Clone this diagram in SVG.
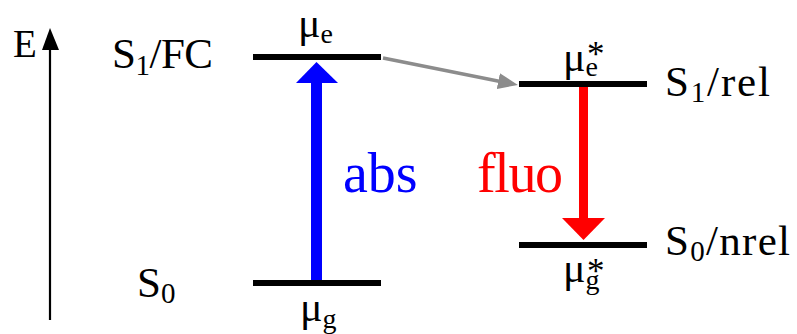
<svg xmlns="http://www.w3.org/2000/svg" width="797" height="334" viewBox="0 0 797 334">
<style>
  .t { font-family: "Liberation Serif", "Times New Roman", serif; fill: #000; }
  .lab { font-size: 43px; }
  .sub { font-size: 29px; }
  .mu { font-size: 42px; }
  .musub { font-size: 28px; }
  .star { font-size: 35px; }
  .level { stroke: #000; stroke-width: 6; fill: none; }
</style>
<defs>
  <marker id="grayHead" viewBox="0 0 20 16" refX="2" refY="8" markerWidth="20" markerHeight="16" markerUnits="userSpaceOnUse" orient="auto">
    <path d="M0,0 L20,8 L0,16 z" fill="#8c8c8c"/>
  </marker>
</defs>

<g id="axis">
  <line x1="50" y1="320" x2="50" y2="48" stroke="#000" stroke-width="2.2"/>
  <polygon points="50,28 42,50 59,50" fill="#000"/>
  <text class="t" x="13" y="57" font-size="39">E</text>
</g>

<g id="S1FC">
  <line class="level" x1="253" y1="57" x2="381" y2="57"/>
  <text class="t lab" x="112" y="68" textLength="101">S<tspan class="sub" dy="7">1</tspan><tspan dy="-7">/FC</tspan></text>
  <text class="t mu" x="298" y="37">μ<tspan class="musub" dy="6">e</tspan></text>
</g>

<g id="S0">
  <line class="level" x1="253" y1="283" x2="381" y2="283"/>
  <text class="t lab" x="137" y="297">S<tspan class="sub" dy="6">0</tspan></text>
  <text class="t mu" x="300" y="321">μ<tspan class="musub" dy="7">g</tspan></text>
</g>

<g id="S1rel">
  <line class="level" x1="519" y1="84" x2="647" y2="84"/>
  <text class="t lab" x="665" y="96" textLength="105">S<tspan class="sub" dy="6">1</tspan><tspan dy="-6">/rel</tspan></text>
  <text class="t mu" x="563" y="71">μ<tspan class="musub" dy="5">e</tspan><tspan class="star" x="587" y="66">*</tspan></text>
</g>

<g id="S0nrel">
  <line class="level" x1="519" y1="245" x2="647" y2="245"/>
  <text class="t lab" x="665" y="255" textLength="125">S<tspan class="sub" dy="6">0</tspan><tspan dy="-6">/nrel</tspan></text>
  <text class="t mu" x="563" y="282">μ<tspan class="musub" dy="7">g</tspan><tspan class="star" x="587" y="283">*</tspan></text>
</g>

<g id="connectors">
  <g id="abs">
    <rect x="311" y="82" width="11" height="198" fill="#0000ff"/>
    <polygon points="316.5,62 296,83 338,83" fill="#0000ff"/>
    <text class="t" x="343" y="192" font-size="56" style="fill:#0000ff">abs</text>
  </g>
  <g id="fluo">
    <rect x="579" y="87" width="9" height="132" fill="#ff0000"/>
    <polygon points="583.5,240 562,218 605,218" fill="#ff0000"/>
    <text class="t" x="477" y="192" font-size="56" textLength="86" style="fill:#ff0000">fluo</text>
  </g>
  <line id="relax" x1="383" y1="58" x2="500.3" y2="81.5" stroke="#8c8c8c" stroke-width="3.5" marker-end="url(#grayHead)"/>
</g>
</svg>
